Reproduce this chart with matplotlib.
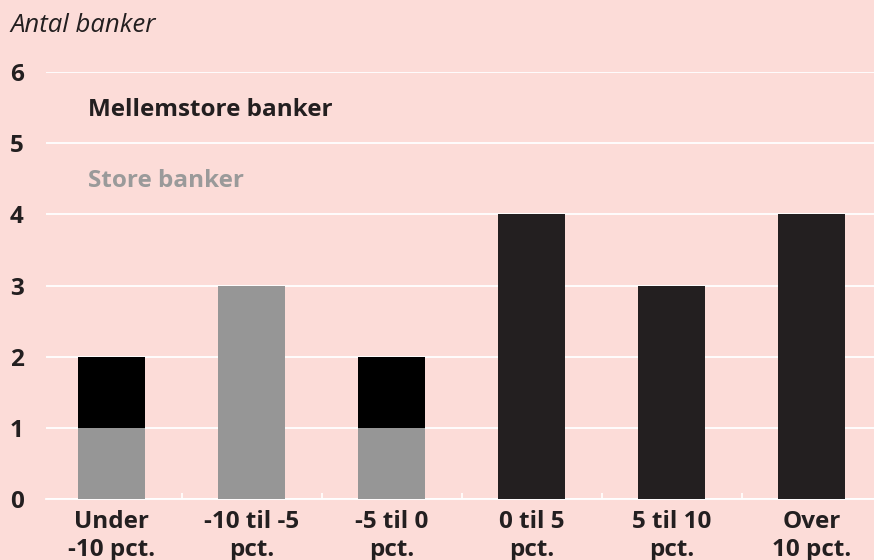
import matplotlib.pyplot as plt
import numpy as np

plt.rcParams['font.family'] = ['Open Sans', 'DejaVu Sans']

categories = ['Under\n-10 pct.', '-10 til -5\npct.', '-5 til 0\npct.',
              '0 til 5\npct.', '5 til 10\npct.', 'Over\n10 pct.']
store = [1, 3, 1, 0, 0, 0]
mellemstore = [1, 0, 1, 4, 3, 4]
mellem_colors = ['#000000', '#000000', '#000000', '#231f20', '#231f20', '#231f20']

bg = '#fcdcd8'
dark = '#231f20'
grey = '#969696'
fs = 17.5

fig = plt.figure(figsize=(8.74, 5.6), dpi=100, facecolor=bg)
ax = fig.add_axes([46 / 874, 1 - 499 / 560, 1 - 46 / 874, (499 - 72) / 560])
ax.set_facecolor(bg)

x = np.arange(len(categories))
ax.bar(x, store, width=0.48, color=grey, zorder=3)
ax.bar(x, mellemstore, width=0.48, bottom=store, color=mellem_colors, zorder=3)

ax.set_ylim(0, 6)
ax.set_xlim(-0.468, 5.446)
ax.set_yticks(range(7))
ax.yaxis.grid(True, color='white', linewidth=1.3, zorder=1)
ax.set_axisbelow(True)
for s in ['top', 'right', 'left']:
    ax.spines[s].set_visible(False)
ax.spines['bottom'].set_color('white')
ax.spines['bottom'].set_linewidth(1.3)

ax.set_xticks(x)
ax.set_xticklabels(categories, fontsize=fs, fontweight='bold', color=dark,
                   linespacing=1.2)
ax.set_xticks(x[:-1] + 0.5, minor=True)
ax.tick_params(axis='x', which='major', length=0, pad=8)
ax.tick_params(axis='x', which='minor', direction='in', length=4.5,
               width=1.2, color='white')
ax.tick_params(axis='y', length=0, pad=26, labelsize=fs, labelcolor=dark)
for lbl in ax.get_yticklabels():
    lbl.set_horizontalalignment('left')
    lbl.set_fontweight('bold')

fig.text(10 / 874, 1 - 25 / 560, 'Antal banker', fontsize=fs + 1, style='italic',
         color=dark, va='center', ha='left')
fig.text(88 / 874, 1 - 110 / 560, 'Mellemstore banker', fontsize=fs,
         fontweight='bold', color=dark, va='center', ha='left')
fig.text(88 / 874, 1 - 181 / 560, 'Store banker', fontsize=fs,
         fontweight='bold', color='#9a9a9a', va='center', ha='left')

fig.savefig('out.png', dpi=100, facecolor=bg)
